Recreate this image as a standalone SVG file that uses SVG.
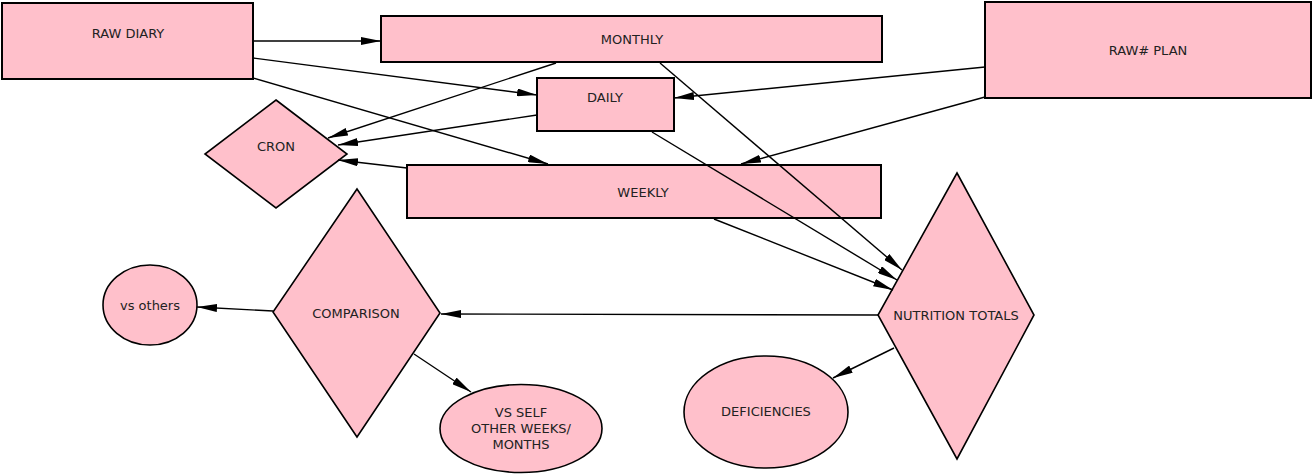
<svg xmlns="http://www.w3.org/2000/svg" width="1312" height="475" viewBox="0 0 1312 475">
<defs>
<style>
.n{fill:#ffc0cb;stroke:#000;stroke-width:2}
.d{fill:#ffc0cb;stroke:#000;stroke-width:1.6}
.t{font-family:"DejaVu Sans",sans-serif;font-size:13px;fill:#222;text-anchor:middle;dominant-baseline:central}
.e{fill:none;stroke:#000;stroke-width:1.4;marker-end:url(#ah)}
</style>
<marker id="ah" markerUnits="userSpaceOnUse" markerWidth="20" markerHeight="8" refX="20" refY="4" orient="auto" viewBox="0 0 20 8">
<path d="M0,0 L20,4 L0,8 z" fill="#000"/>
</marker>
</defs>
<rect width="1312" height="475" fill="#fff"/>
<g id="raw-diary"><rect class="n" x="2" y="3" width="251" height="76"/><text class="t" x="128" y="33">RAW DIARY</text></g>
<g id="monthly"><rect class="n" x="381" y="16" width="501" height="46"/><text class="t" x="632" y="39">MONTHLY</text></g>
<g id="daily"><rect class="n" x="537" y="78" width="137" height="53"/><text class="t" x="605" y="97">DAILY</text></g>
<g id="raw-plan"><rect class="n" x="985" y="2" width="326" height="96"/><text class="t" x="1148" y="50">RAW# PLAN</text></g>
<g id="weekly"><rect class="n" x="407" y="165" width="474" height="53"/><text class="t" x="643" y="192">WEEKLY</text></g>
<g id="cron"><polygon class="d" points="276,100 347,154 276,208 205,154"/><text class="t" x="276" y="146">CRON</text></g>
<g id="comparison"><polygon class="d" points="357,189 440,313 357,437 273,312"/><text class="t" x="356" y="313">COMPARISON</text></g>
<g id="vs-others"><ellipse class="d" cx="150" cy="305" rx="47" ry="40"/><text class="t" x="150" y="305">vs others</text></g>
<g id="nutrition-totals"><polygon class="d" points="957,173 1034,315 957,459 878,315"/><text class="t" x="956" y="315">NUTRITION TOTALS</text></g>
<g id="vs-self"><ellipse class="d" cx="521" cy="428.5" rx="81" ry="44"/><text class="t" x="521" y="412">VS SELF</text><text class="t" x="521" y="428">OTHER WEEKS/</text><text class="t" x="521" y="444">MONTHS</text></g>
<g id="deficiencies"><ellipse class="d" cx="766" cy="412" rx="82" ry="56"/><text class="t" x="766" y="411">DEFICIENCIES</text></g>
<g id="connectors">
<line class="e" x1="253" y1="41" x2="381" y2="41"/>
<line class="e" x1="253" y1="58" x2="537" y2="95"/>
<line class="e" x1="253" y1="78" x2="548" y2="164"/>
<line class="e" x1="556" y1="63" x2="328" y2="138"/>
<line class="e" x1="660" y1="63" x2="902" y2="270"/>
<line class="e" x1="537" y1="115" x2="338" y2="145"/>
<line class="e" x1="652" y1="132" x2="897" y2="280"/>
<line class="e" x1="985" y1="67" x2="674" y2="98"/>
<line class="e" x1="985" y1="97" x2="741" y2="164"/>
<line class="e" x1="407" y1="168" x2="338" y2="160"/>
<line class="e" x1="714" y1="219" x2="893" y2="290"/>
<line class="e" x1="878" y1="315" x2="441" y2="314"/>
<line class="e" x1="894" y1="348" x2="833" y2="378"/>
<line class="e" x1="273" y1="311" x2="197" y2="307"/>
<line class="e" x1="414" y1="354" x2="471" y2="392"/>
</g>
</svg>
